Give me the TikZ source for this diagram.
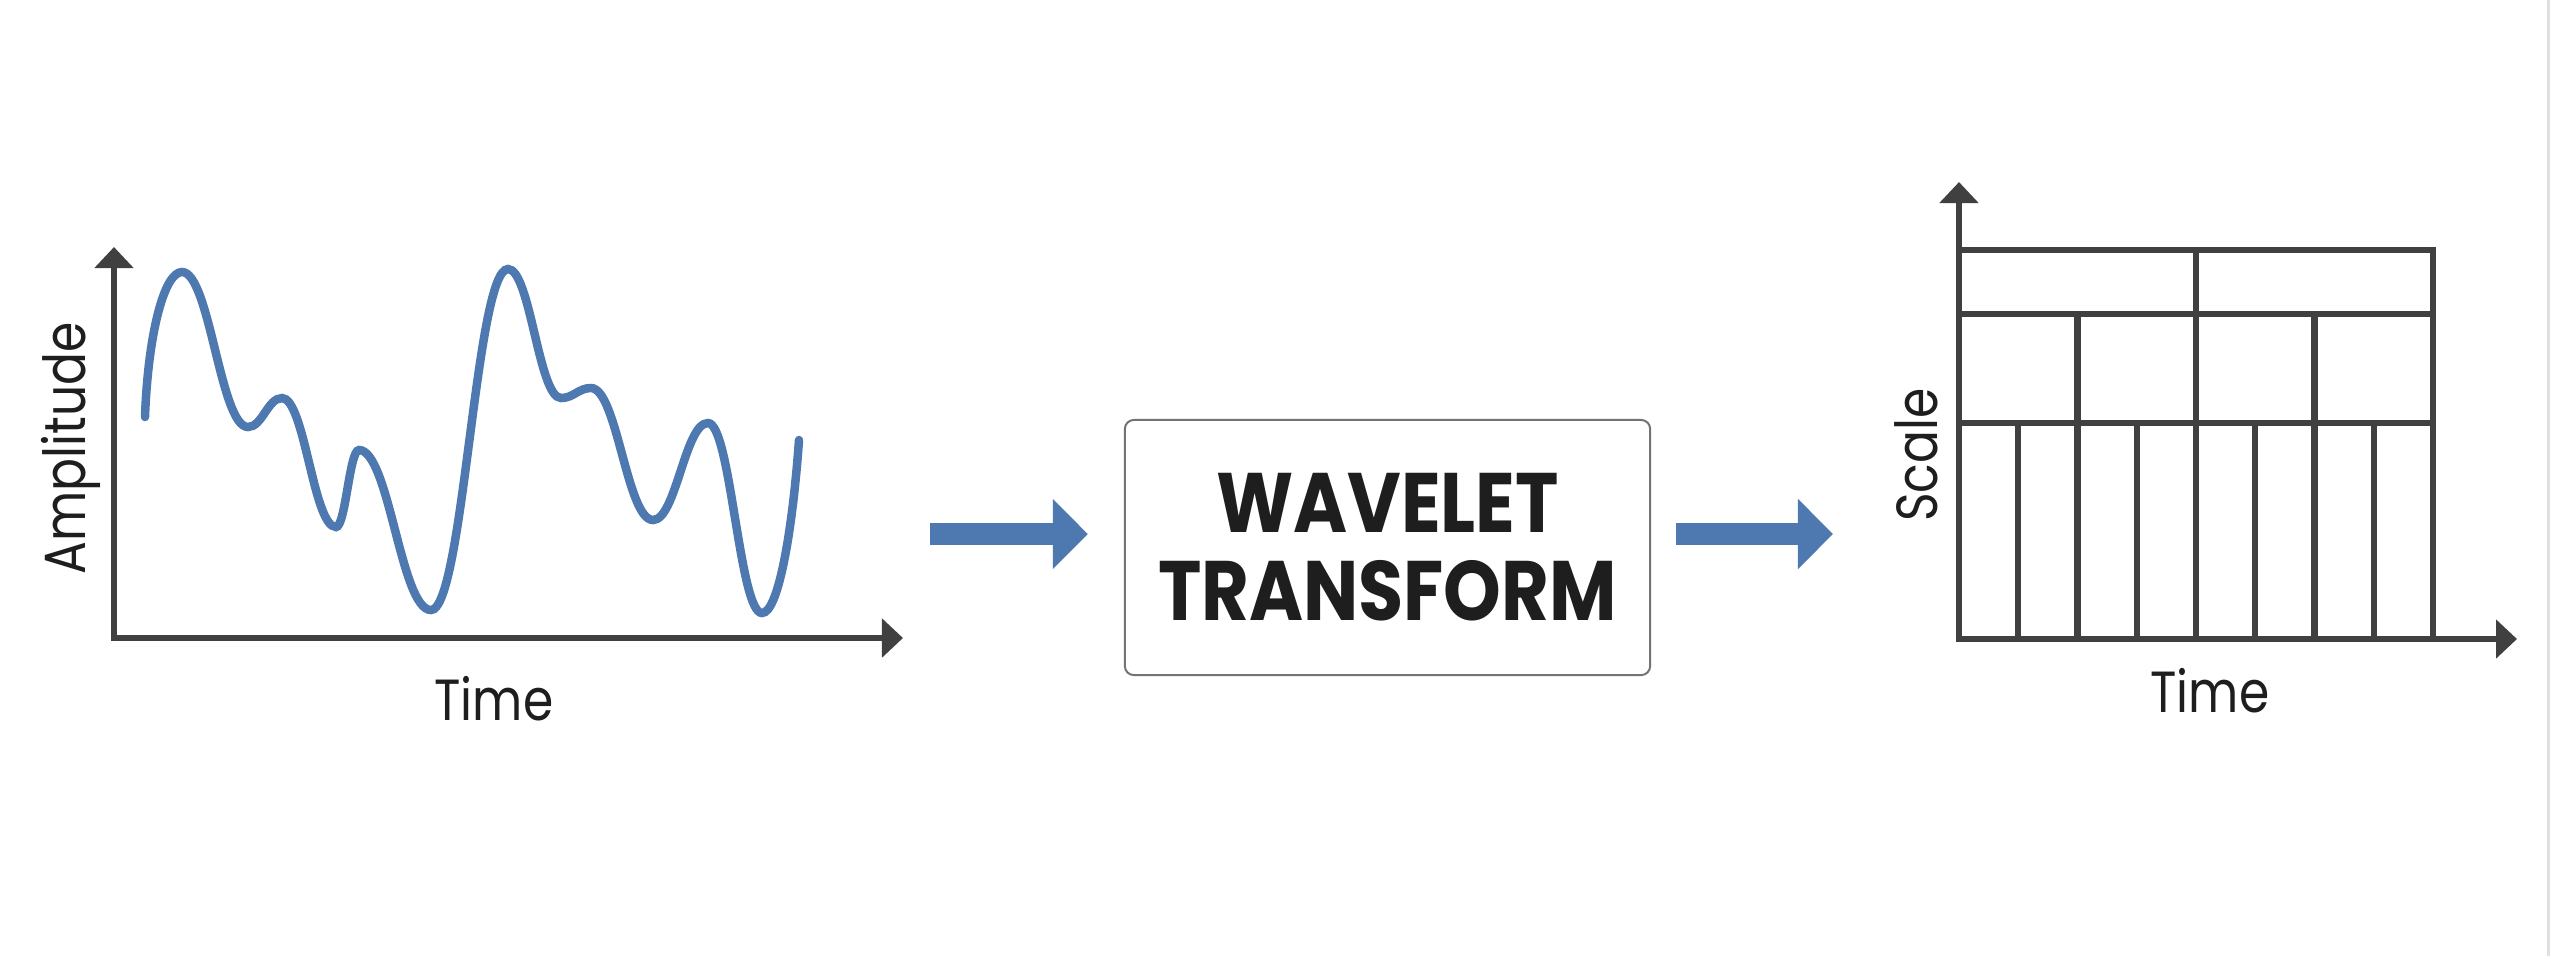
\documentclass[tikz,border=0pt]{standalone}
\usepackage{fontspec}
\setmainfont{Poppins}[FakeStretch=0.84]
\newfontfamily\titlefont{Poppins}[FakeStretch=0.87]
\usepackage{tikz}
\usetikzlibrary{arrows.meta, positioning}

\definecolor{axisgray}{RGB}{64,64,64}
\definecolor{waveblue}{RGB}{78,120,176}
\definecolor{boxgray}{RGB}{115,115,115}
\definecolor{textblack}{RGB}{30,30,30}

\begin{document}
\begin{tikzpicture}[x=0.01cm, y=-0.01cm,
    >={Triangle[length=0.21cm, width=0.38cm]},
    axis/.style={axisgray, line width=0.068cm},
    grid/.style={axisgray, line width=0.062cm},
    wave/.style={waveblue, line width=0.085cm, line cap=round},
    fatarrow/.style={waveblue, line width=0.22cm,
        -{Triangle[length=0.35cm, width=0.68cm]}},
    lbl/.style={textblack, font=\fontsize{16.5}{18}\selectfont, inner sep=0pt},
    tbox/.style={draw=boxgray, line width=0.02cm, rounded corners=0.09cm,
        minimum width=5.25cm, minimum height=2.55cm, align=center,
        text=textblack, font=\titlefont\fontsize{24}{26}\selectfont\bfseries}
]
    \useasboundingbox (0,0) rectangle (2550,956);
    \draw[black!12, line width=0.03cm] (2548,0) -- (2548,956);

    % SIGNAL (left)
    \draw[axis, <->] (114,247) -- (114,638) -- (903,638);
    \draw[wave] (145,417) .. controls (148,335) and (164,272) .. (182,272)
        foreach \xa/\ya/\xb/\yb in {
            182/272/248/427, 248/427/282/398, 282/398/336/527,
            336/527/359/450, 359/450/431/610, 431/610/508/269,
            508/269/561/398, 561/398/591/388, 591/388/653/520,
            653/520/708/423, 708/423/762/613
        }{
            .. controls ({\xa+0.42*(\xb-\xa)},\ya) and ({\xb-0.42*(\xb-\xa)},\yb) .. (\xb,\yb)
        }
        .. controls (779,613) and (793,525) .. (799,440);
    \node[lbl, rotate=90, anchor=base] (amp) at (85,448) {Amplitude};
    \node[lbl, anchor=base] (time1) at (494,720) {Time};

    % TRANSFORM BOX
    \node[tbox] (wt) at (1387.5,547.5) {WAVELET\\[-1pt]TRANSFORM};
    \coordinate (in) at (930,534);
    \coordinate (out) at (1833,534);
    \draw[fatarrow, shorten >=0.36cm] (in) -- (in -| wt.west);
    \draw[fatarrow, shorten <=0.25cm] (out -| wt.east) -- (out);

    % TIME-SCALE TILING (right)
    \draw[axis, <->] (1959,182) -- (1959,639) -- (2517,639);
    \draw[grid] (1959,250) -- (2433,250) -- (2433,639);
    \draw[grid] (1959,314) -- (2433,314);
    \draw[grid] (1959,423) -- (2433,423);
    \foreach \i in {1,...,7}{
        \draw[grid] (1959+59.25*\i,423) -- (1959+59.25*\i,639);
    }
    \foreach \i in {2,4,6}{
        \draw[grid] (1959+59.25*\i,314) -- (1959+59.25*\i,423);
    }
    \draw[grid] (1959+59.25*4,250) -- (1959+59.25*4,314);
    \node[lbl, rotate=90, anchor=base] (scale) at (1937,455) {Scale};
    \node[lbl, anchor=base] (time2) at (2210,712) {Time};

\end{tikzpicture}
\end{document}
